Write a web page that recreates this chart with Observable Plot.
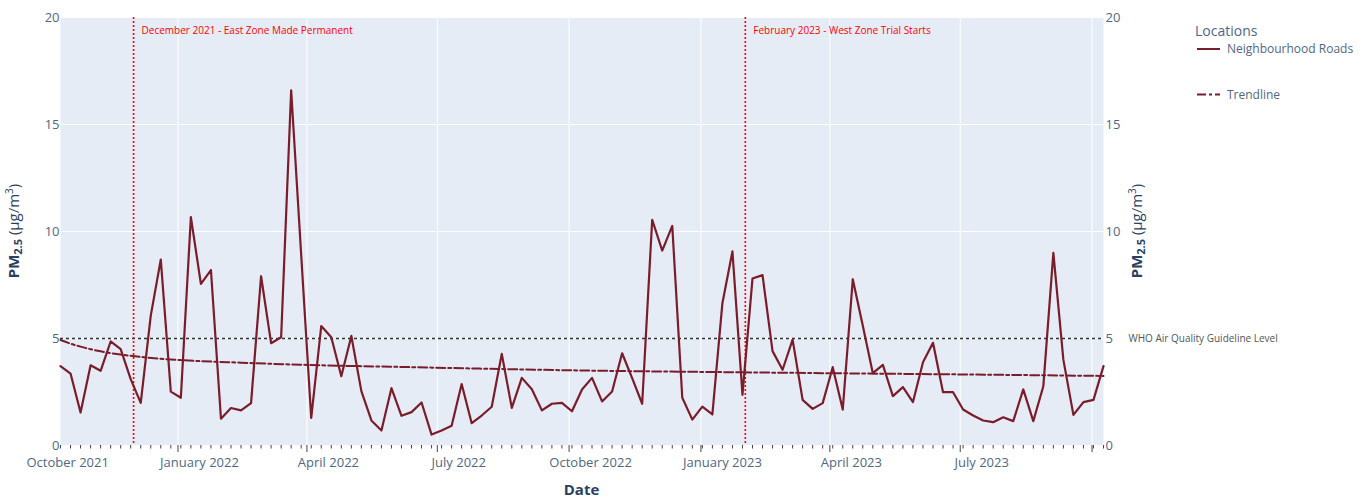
<!DOCTYPE html>
<html><head><meta charset="utf-8">
<script src="https://cdn.jsdelivr.net/npm/d3@7"></script>
<script src="https://cdn.jsdelivr.net/npm/@observablehq/plot@0.6"></script>
<style>
body{margin:0;background:#fff;font-family:"Open Sans",sans-serif;}
</style></head><body><div id="chart"></div>
<script>
// ---- data ----
const startWeek = "2021-10-11"; // first weekly reading (Mondays)
const pm25 = [
 3.71,3.36,1.54,3.75,3.49,4.86,4.50,3.10,1.99,6.07,
 8.69,2.52,2.23,10.67,7.55,8.20,1.25,1.75,1.64,1.98,
 7.91,4.78,5.06,16.6,8.9,1.29,5.58,5.06,3.24,5.12,
 2.54,1.17,0.70,2.68,1.39,1.56,2.01,0.51,0.70,0.92,
 2.87,1.04,1.40,1.81,4.28,1.76,3.16,2.63,1.64,1.95,
 1.99,1.60,2.62,3.16,2.06,2.52,4.31,3.15,1.95,10.55,
 9.11,10.26,2.23,1.21,1.82,1.45,6.65,9.07,2.37,7.80,
 7.96,4.41,3.54,4.95,2.13,1.71,1.98,3.66,1.68,7.77,
 5.6,3.38,3.77,2.31,2.73,2.03,3.89,4.80,2.49,2.49,
 1.68,1.40,1.17,1.09,1.32,1.14,2.62,1.14,2.77,9.00,
 4.00,1.43,2.03,2.13,3.71
];
const trendWeeks  = [0,1,2,3,4,6,8,12,18,25,34,50,70,90,104];
const trendValues = [4.93,4.76,4.62,4.50,4.40,4.25,4.14,3.99,3.87,3.76,3.67,3.52,3.41,3.32,3.25];
const yTicks = [0,5,10,15,20];
const quarterTicks = ["2022-01-01","2022-04-01","2022-07-01","2022-10-01","2023-01-01","2023-04-01","2023-07-01","2023-10-01"];
const tickLabelDates = ["2021-10-16","2022-01-16","2022-04-16","2022-07-16","2022-10-16","2023-01-16","2023-04-16","2023-07-16"];
const tickLabels = ["October 2021","January 2022","April 2022","July 2022","October 2022","January 2023","April 2023","July 2023"];
const eventDates = ["2021-12-01","2023-02-01"];
const eventLabels = ["December 2021 - East Zone Made Permanent","February 2023 - West Zone Trial Starts"];
const whoLevel = 5;
const whoLabel = "WHO Air Quality Guideline Level";
const seriesName = "Neighbourhood Roads";
const trendName = "Trendline";
const legendTitle = "Locations";

// ---- build tables ----
const t0 = new Date(startWeek);
const weekDate = k => d3.utcDay.offset(t0, 7 * k);
const data = pm25.map((v, k) => ({date: weekDate(k), value: v}));
const trend = trendWeeks.map((k, i) => ({date: weekDate(k), value: trendValues[i]}));
const weeks = data.map(d => d.date);
const quarters = quarterTicks.map(d => new Date(d));
const labelDates = tickLabelDates.map(d => new Date(d));
const labelMap = new Map(labelDates.map((d, i) => [+d, tickLabels[i]]));
const events = eventDates.map((d, i) => ({date: new Date(d), label: eventLabels[i]}));

const lineColor = "#7b1c2a";
const tickColor = "#506784";

const plot = Plot.plot({
  width: 1363, height: 499,
  marginLeft: 60, marginRight: 260, marginTop: 17, marginBottom: 54,
  style: {fontFamily: "'Open Sans', sans-serif", fontSize: "12px", color: tickColor, background: "white"},
  x: {type: "utc", domain: [weeks[0], weeks[weeks.length - 1]]},
  y: {domain: [0, 20]},
  marks: [
    Plot.frame({fill: "#E5ECF6", stroke: null}),
    Plot.gridX(quarters, {stroke: "#fff", strokeOpacity: 1, strokeWidth: 1}),
    Plot.gridY(yTicks, {stroke: "#fff", strokeOpacity: 1, strokeWidth: 1}),
    Plot.ruleY([whoLevel], {stroke: "#333", strokeDasharray: "3,3", strokeWidth: 1.5}),
    Plot.ruleX(events, {x: "date", stroke: "red", strokeDasharray: "2,2", strokeWidth: 1.6}),
    Plot.text(events, {x: "date", text: "label", frameAnchor: "top", dy: 9, dx: 8, textAnchor: "start", fill: "red", fontSize: 10}),
    Plot.text([whoLevel], {y: d => d, text: () => whoLabel, frameAnchor: "right", dx: 25, textAnchor: "start", fill: "#555", fontSize: 10}),
    Plot.line(trend, {x: "date", y: "value", stroke: lineColor, strokeWidth: 2, strokeDasharray: "9,3,3,3", curve: "monotone-x"}),
    Plot.line(data, {x: "date", y: "value", stroke: lineColor, strokeWidth: 2.2}),
    Plot.axisX(weeks, {tickSize: 3.5, text: null, stroke: "#444", label: null}),
    Plot.axisX(quarters, {tickSize: 7, text: null, stroke: "#444", label: null}),
    Plot.axisX(labelDates, {tickSize: 0, tickPadding: 12, tickFormat: d => labelMap.get(+d), fontSize: 13, fill: tickColor, label: null}),
    Plot.axisY(yTicks, {anchor: "left", tickSize: 0, tickPadding: 1, fontSize: 13, fill: tickColor, label: null}),
    Plot.axisY(yTicks, {anchor: "right", tickSize: 0, tickPadding: 2, fontSize: 13, fill: tickColor, label: null})
  ]
});
document.getElementById("chart").appendChild(plot);

// ---- titles and legend ----
const svg = d3.select(plot);
function yTitle(x) {
  const t = svg.append("text")
    .attr("transform", `translate(${x},231) rotate(-90)`)
    .attr("text-anchor", "middle")
    .attr("fill", "#2a3f5f")
    .attr("font-size", 15)
    .attr("font-family", "'Open Sans', sans-serif");
  t.append("tspan").attr("font-weight", "bold").text("PM");
  t.append("tspan").attr("font-weight", "bold").attr("font-size", 11).attr("dy", 3).text("2.5");
  t.append("tspan").attr("dy", -3).text(" (μg/m");
  t.append("tspan").attr("font-size", 10).attr("dy", -6).text("3");
  t.append("tspan").attr("dy", 6).text(")");
}
yTitle(19);
yTitle(1142);

svg.append("text").attr("x", 581.5).attr("y", 495).attr("text-anchor", "middle")
  .attr("font-weight", "bold").attr("font-size", 15).attr("fill", "#2a3f5f")
  .attr("font-family", "'Open Sans', sans-serif").text("Date");

const lg = svg.append("g").attr("font-family", "'Open Sans', sans-serif")
  .attr("fill", tickColor).attr("text-anchor", "start");
lg.append("text").attr("x", 1195).attr("y", 36).attr("font-size", 14).text(legendTitle);
lg.append("line").attr("x1", 1197).attr("x2", 1220).attr("y1", 49).attr("y2", 49)
  .attr("stroke", lineColor).attr("stroke-width", 2);
lg.append("text").attr("x", 1227).attr("y", 53).attr("font-size", 12).text(seriesName);
lg.append("line").attr("x1", 1197).attr("x2", 1220).attr("y1", 94.5).attr("y2", 94.5)
  .attr("stroke", lineColor).attr("stroke-width", 2).attr("stroke-dasharray", "9,3,3,3");
lg.append("text").attr("x", 1227).attr("y", 99).attr("font-size", 12).text(trendName);
</script></body></html>
